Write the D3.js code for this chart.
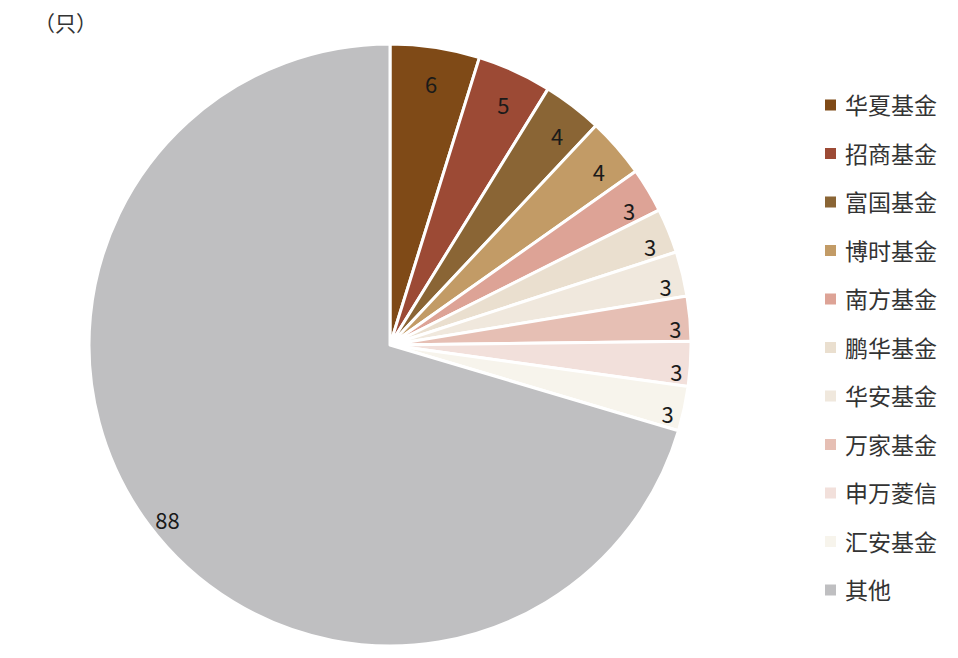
<!DOCTYPE html>
<html>
<head>
<meta charset="utf-8">
<script src="https://cdn.jsdelivr.net/npm/d3@7"></script>
<style>
  body { margin: 0; background: #fff; }
  text { font-family: "Noto Sans CJK SC", "Noto Sans", sans-serif; }
</style>
</head>
<body>
<script>
// fund companies and number of funds (只)
var categories = ["华夏基金", "招商基金", "富国基金", "博时基金", "南方基金",
                  "鹏华基金", "华安基金", "万家基金", "申万菱信", "汇安基金", "其他"];
var counts = [6, 5, 4, 4, 3, 3, 3, 3, 3, 3, 88];
var colors = ["#7f4a17", "#9c4a35", "#8a6535", "#c29b66", "#dda396",
              "#eadfcf", "#f0e8dd", "#e6bfb4", "#f2e0db", "#f7f4ec", "#bfbfc1"];
var unitLabel = "（只）";

var width = 958, height = 658;
var cx = 390, cy = 345, radius = 301;

var svg = d3.select("body")
    .append("svg")
    .attr("width", width)
    .attr("height", height);

var data = categories.map(function(c, i) { return { name: c, value: counts[i], color: colors[i] }; });

var pie = d3.pie()
    .sort(null)
    .value(function(d) { return d.value; });

var arc = d3.arc()
    .innerRadius(0)
    .outerRadius(radius);

var g = svg.append("g")
    .attr("transform", "translate(" + cx + "," + cy + ")");

var arcs = pie(data);

// slices
g.selectAll("path")
    .data(arcs)
    .enter()
    .append("path")
    .attr("d", arc)
    .attr("fill", function(d) { return d.data.color; })
    .attr("stroke", "#fff")
    .attr("stroke-width", 3)
    .attr("stroke-linejoin", "round");

// value labels, placed "inside end" (text box kept just inside the rim)
var labelHalfW = 5, labelHalfH = 19;
g.selectAll("text.val")
    .data(arcs)
    .enter()
    .append("text")
    .attr("class", "val")
    .attr("transform", function(d) {
        var a = (d.startAngle + d.endAngle) / 2;
        var r = radius - 8 - labelHalfW * Math.abs(Math.sin(a)) - labelHalfH * Math.abs(Math.cos(a));
        return "translate(" + (r * Math.sin(a)) + "," + (-r * Math.cos(a) + 8) + ")";
    })
    .attr("text-anchor", "middle")
    .attr("dominant-baseline", "central")
    .style("font-size", "22px")
    .style("fill", "#1a1a1a")
    .text(function(d) { return d.data.value; });

// unit label
svg.append("text")
    .attr("x", 34)
    .attr("y", 31)
    .style("font-size", "21px")
    .style("fill", "#333")
    .text(unitLabel);

// legend
var legendX = 825, legendY = 105, legendStep = 48.5;
var legend = svg.selectAll("g.legend")
    .data(data)
    .enter()
    .append("g")
    .attr("class", "legend")
    .attr("transform", function(d, i) { return "translate(" + legendX + "," + (legendY + i * legendStep) + ")"; });

legend.append("rect")
    .attr("x", 0)
    .attr("y", -5.5)
    .attr("width", 11)
    .attr("height", 11)
    .attr("fill", function(d) { return d.color; });

legend.append("text")
    .attr("x", 20)
    .attr("y", -1)
    .attr("dominant-baseline", "central")
    .style("font-size", "23px")
    .style("fill", "#333")
    .text(function(d) { return d.name; });
</script>
</body>
</html>
